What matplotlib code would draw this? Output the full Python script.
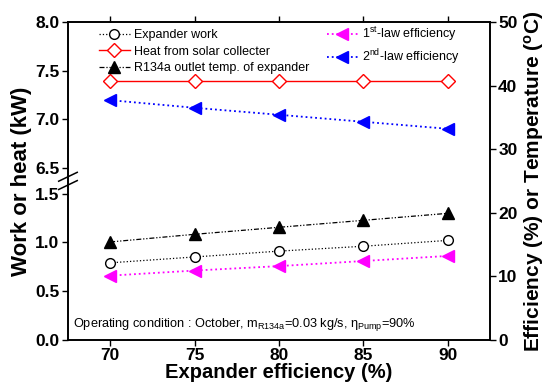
import numpy as np
import matplotlib
matplotlib.use("Agg")
import matplotlib.pyplot as plt

plt.rcParams["font.family"] = ["Liberation Sans", "DejaVu Sans"]
plt.rcParams["mathtext.fontset"] = "custom"
plt.rcParams["mathtext.rm"] = "Liberation Sans"
plt.rcParams["mathtext.it"] = "Liberation Sans:italic"
plt.rcParams["mathtext.bf"] = "Liberation Sans:bold"

# Data
expander_eff = [70, 75, 80, 85, 90]
expander_work = [0.79, 0.85, 0.91, 0.96, 1.02]          # kW (left)
solar_heat = [7.39, 7.39, 7.39, 7.39, 7.39]             # kW (left)
outlet_temp = [15.4, 16.6, 17.7, 18.8, 19.9]            # degC (right)
first_law = [10.1, 10.9, 11.6, 12.4, 13.2]              # % (right)
second_law = [37.7, 36.5, 35.4, 34.3, 33.2]             # % (right)

left_ticks = [0.0, 0.5, 1.0, 1.5, 6.5, 7.0, 7.5, 8.0]
right_ticks = [0, 10, 20, 30, 40, 50]

# broken left axis: 1.5 .. 6.5 squeezed into a small gap
LO, HI, GAP = 1.5, 6.5, 0.26


def fwd(y):
    y = np.asarray(y, dtype=float)
    return np.where(y <= LO, y,
                    np.where(y >= HI, y - (HI - LO) + GAP,
                             LO + (y - LO) * GAP / (HI - LO)))


def inv(t):
    t = np.asarray(t, dtype=float)
    return np.where(t <= LO, t,
                    np.where(t >= LO + GAP, t + (HI - LO) - GAP,
                             LO + (t - LO) * (HI - LO) / GAP))


fig = plt.figure(figsize=(5.48, 3.92), dpi=100)
ax = fig.add_axes([0.124, 0.133, 0.770, 0.811])
ax.set_yscale("function", functions=(fwd, inv))
ax2 = ax.twinx()

h1, = ax.plot(expander_eff, expander_work, ls=":", color="black", lw=0.9,
              marker="o", ms=7, mfc="white", mec="black", mew=1.0,
              label="Expander work")
h2, = ax.plot(expander_eff, solar_heat, ls="-", color="red", lw=1.0,
              marker="D", ms=7, mfc="white", mec="red", mew=1.0,
              label="Heat from solar collecter")
h3, = ax2.plot(expander_eff, outlet_temp, ls=(0, (4, 1.5, 1, 1.5, 1, 1.5)),
               color="black", lw=0.9, marker="^", ms=8, mfc="black", mec="black",
               label="R134a outlet temp. of expander")
h4, = ax2.plot(expander_eff, first_law, ls=":", color="magenta", lw=1.3,
               marker="<", ms=8, mfc="magenta", mec="magenta",
               label=r"1$^{\mathregular{st}}$-law efficiency")
h5, = ax2.plot(expander_eff, second_law, ls=":", color="blue", lw=1.3,
               marker="<", ms=8, mfc="blue", mec="blue",
               label=r"2$^{\mathregular{nd}}$-law efficiency")

ax.set_xlim(67.5, 92.5)
ax.set_ylim(0, 8)
ax2.set_ylim(0, 50)
ax.set_xticks(expander_eff)
ax.set_yticks(left_ticks)
ax.set_yticklabels([f"{v:.1f}" for v in left_ticks])
ax2.set_yticks(right_ticks)

ax.tick_params(axis="both", direction="out", length=4, width=1.0,
               labelsize=12.5, top=True, pad=2)
ax2.tick_params(axis="y", direction="out", length=4, width=1.0,
                labelsize=12.5, pad=2)
for lab in ax.get_xticklabels() + ax.get_yticklabels() + ax2.get_yticklabels():
    lab.set_fontweight("bold")
for a in (ax, ax2):
    for s in a.spines.values():
        s.set_linewidth(1.2)

ax.set_xlabel("Expander efficiency (%)", fontsize=14.5, fontweight="bold",
              labelpad=0)
ax.set_ylabel("Work or heat (kW)", fontsize=16, fontweight="bold", labelpad=2)
ax2.set_ylabel(r"Efficiency (%) or Temperature ($^{\mathbf{o}}$C)",
               fontsize=15, fontweight="bold", labelpad=3)

# break marks on left spine
yb = (LO + GAP / 2) / fwd(8.0)
for dy in (-0.013, 0.013):
    ax.plot([-0.022, 0.022], [yb + dy - 0.014, yb + dy + 0.014], color="black",
            lw=1.1, transform=ax.transAxes, clip_on=False)

ax.legend(handles=[h1, h2, h3, h4, h5], ncol=2, loc="upper left",
          bbox_to_anchor=(0.055, 1.015), frameon=False, fontsize=9.0,
          handlelength=2.5, handletextpad=0.3, labelspacing=0.38,
          columnspacing=1.4, borderaxespad=0.2)

ax.text(0.013, 0.022,
        r"Operating condition : October, m$_{\mathregular{R134a}}$=0.03 kg/s, "
        r"η$_{\mathregular{Pump}}$=90%",
        transform=ax.transAxes, fontsize=9.2, ha="left", va="bottom")

fig.savefig("out.png", dpi=100)
